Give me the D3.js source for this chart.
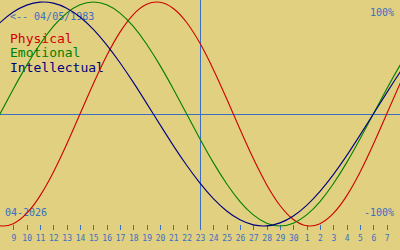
<!DOCTYPE html>
<html>
<head>
<meta charset="utf-8">
<script src="https://cdn.jsdelivr.net/npm/d3@7"></script>
<style>
  html, body { margin: 0; padding: 0; background: #e0d080; overflow: hidden; }
  svg { display: block; }
  text { font-family: "DejaVu Sans Mono", "Liberation Mono", monospace; }
</style>
</head>
<body>
<svg id="chart" width="400" height="250"></svg>
<script>
// Daily values, 2026-04-06 .. 2026-05-10 (35 days) (-1 .. 1)
const physical = [-0.817, -0.942, -0.998, -0.979, -0.888, -0.731, -0.520, -0.270, 0, 0.270,
  0.520, 0.731, 0.888, 0.979, 0.998, 0.942, 0.817, 0.631, 0.398, 0.136,
  -0.136, -0.398, -0.631, -0.817, -0.942, -0.998, -0.979, -0.888, -0.731, -0.520,
  -0.270, 0, 0.270, 0.520, 0.731];
const emotional = [-0.434, -0.223, 0, 0.223, 0.434, 0.623, 0.782, 0.901, 0.975, 1,
  0.975, 0.901, 0.782, 0.623, 0.434, 0.223, 0, -0.223, -0.434, -0.623,
  -0.782, -0.901, -0.975, -1, -0.975, -0.901, -0.782, -0.623, -0.434, -0.223,
  0, 0.223, 0.434, 0.623, 0.782];
const intellectual = [0.541, 0.690, 0.815, 0.910, 0.972, 0.999, 0.990, 0.945, 0.866, 0.756,
  0.618, 0.458, 0.282, 0.095, -0.095, -0.282, -0.458, -0.618, -0.756, -0.866,
  -0.945, -0.990, -0.999, -0.972, -0.910, -0.815, -0.690, -0.541, -0.372, -0.189,
  0, 0.189, 0.372, 0.541, 0.690];
const seriesNames = ["Physical", "Emotional", "Intellectual"];
const seriesColors = ["#d00000", "#008000", "#000080"];
const birthLabel = "<-- 04/05/1983";
const monthLabel = "04-2026";
const topLabel = "100%";
const bottomLabel = "-100%";
const firstDay = Date.UTC(2026, 3, 6);
const lastDayExcl = Date.UTC(2026, 4, 11);
const viewStart = Date.UTC(2026, 3, 8);
const viewEnd = Date.UTC(2026, 4, 8);
const tickStart = Date.UTC(2026, 3, 9);
const today = Date.UTC(2026, 3, 23);

const W = 400, H = 250;
const blue = "#3a6ec4";
const svg = d3.select("#chart");
svg.append("rect").attr("width", W).attr("height", H).attr("fill", "#e0d080");

const days = d3.utcDay.range(new Date(firstDay), new Date(lastDayExcl));
const x = d3.scaleUtc().domain([new Date(viewStart), new Date(viewEnd)]).range([0, W]);
const y = d3.scaleLinear().domain([-1, 1]).range([226, 2]);

svg.append("clipPath").attr("id", "clip").append("rect")
  .attr("x", 0).attr("y", 0).attr("width", W).attr("height", H);

// zero line
svg.append("line")
  .attr("x1", 0).attr("x2", W)
  .attr("y1", Math.round(y(0)) + 0.5).attr("y2", Math.round(y(0)) + 0.5)
  .attr("stroke", blue).attr("stroke-width", 1);

// today line
svg.append("line")
  .attr("x1", Math.round(x(new Date(today))) + 0.5).attr("x2", Math.round(x(new Date(today))) + 0.5)
  .attr("y1", 0).attr("y2", 230)
  .attr("stroke", blue).attr("stroke-width", 1);

// axis
const axis = d3.axisBottom(x)
  .tickValues(d3.utcDay.range(new Date(tickStart), new Date(viewEnd)))
  .tickFormat(d3.utcFormat("%-d"))
  .tickSize(5).tickSizeOuter(0);
const gAxis = svg.append("g").attr("transform", "translate(0,225)").call(axis);
gAxis.select(".domain").remove();
gAxis.selectAll(".tick line").attr("stroke", blue).attr("shape-rendering", "crispEdges");
gAxis.selectAll(".tick text")
  .attr("fill", blue).attr("y", 16).attr("dy", 0)
  .style("font-family", "'DejaVu Sans Mono', monospace").style("font-size", "8px");

// texts
const txt = (t, xx, yy, size, color, anchor) => svg.append("text")
  .attr("x", xx).attr("y", yy).attr("fill", color)
  .attr("text-anchor", anchor || "start")
  .style("font-size", size + "px").text(t);
txt(birthLabel, 10, 20, 10, blue);
txt(topLabel, 394, 16, 10, blue, "end");
txt(bottomLabel, 394, 216, 10, blue, "end");
txt(monthLabel, 5, 216, 10, blue);
seriesNames.forEach((n, k) => txt(n, 10, [43, 57, 72][k], 13, seriesColors[k]));

// curves
const line = d3.line()
  .x((d, i) => x(days[i]))
  .y(d => y(d))
  .curve(d3.curveNatural);
[physical, emotional, intellectual].forEach((s, k) => {
  svg.append("path")
    .attr("clip-path", "url(#clip)")
    .attr("d", line(s))
    .attr("fill", "none")
    .attr("stroke", seriesColors[k])
    .attr("stroke-width", 1.1);
});
</script>
</body>
</html>
